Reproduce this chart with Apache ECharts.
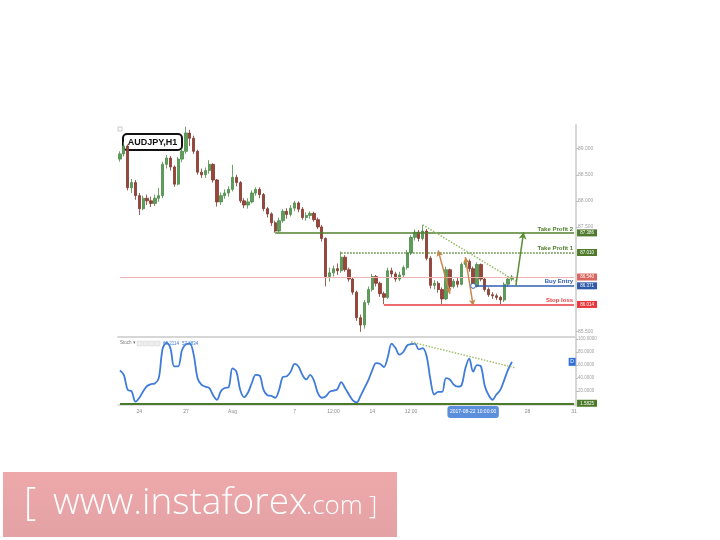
<!DOCTYPE html>
<html><head><meta charset="utf-8">
<script src="https://cdn.jsdelivr.net/npm/echarts@6/dist/echarts.min.js"></script>
<style>html,body{margin:0;padding:0;background:#fff}#c{width:720px;height:540px}</style>
</head><body><div id="c"></div>
<script>
// ---- categories (6-hour slots, trading days only) ----
const tradingDays = ['2017-07-21','2017-07-24','2017-07-25','2017-07-26','2017-07-27','2017-07-28','2017-07-31',
  '2017-08-01','2017-08-02','2017-08-03','2017-08-04','2017-08-07','2017-08-08','2017-08-09','2017-08-10','2017-08-11',
  '2017-08-14','2017-08-15','2017-08-16','2017-08-17','2017-08-18','2017-08-21','2017-08-22','2017-08-23','2017-08-24',
  '2017-08-25','2017-08-28','2017-08-29','2017-08-30'];
const slotHours = ['00:00','06:00','12:00','18:00'];
const categories = ['2017-07-20 18:00'];
tradingDays.forEach(d => slotHours.forEach(h => categories.push(d + ' ' + h)));
categories.push('2017-08-31 00:00');

const tickLabels = {'2017-07-24 00:00':'24','2017-07-27 00:00':'27','2017-08-01 00:00':'Aug','2017-08-07 00:00':'7',
  '2017-08-09 12:00':'12:00','2017-08-14 00:00':'14','2017-08-16 12:00':'12:00','2017-08-28 00:00':'28','2017-08-31 00:00':'31'};
const pointerCategory = '2017-08-22 12:00';
const pointerLabel = '2017-08-22 10:00:00';

// ---- AUDJPY H1 prices (6h buckets) ----
const opens = [88.80,88.90,89.05,88.25,88.35,88.10,87.85,88.05,88.00,87.95, 88.05,88.10,88.70,88.82,88.65,88.32,88.80,88.95,89.30,89.20,
  88.95,88.55,88.50,88.58,88.70,88.40,87.98,88.10,88.15,88.22, 88.45,88.35,88.00,87.92,87.98,88.15,88.22,88.12,87.85,87.75,
  87.58,87.42,87.62,87.80,87.74,87.86,87.96,87.84,87.68,87.72, 87.76,87.64,87.50,87.28,86.55,86.62,86.70,86.66,86.92,86.68,
  86.50,86.25,85.76,85.62,86.05,86.30,86.55,86.42,86.22,86.15, 86.66,86.60,86.50,86.58,86.72,87.00,87.30,87.40,87.28,87.42,
  86.90,86.38,86.42,86.30,86.12,86.68,86.36,86.46,86.40,86.78, 86.84,86.70,86.36,86.78,86.50,86.30,86.20,86.18,86.15,86.10,
  86.40,86.50];
const closes = [88.90,89.05,88.25,88.35,88.10,87.85,88.05,88.00,87.95,88.05, 88.10,88.70,88.82,88.65,88.32,88.80,88.95,89.30,89.20,88.95,
  88.55,88.50,88.58,88.70,88.40,87.98,88.10,88.15,88.22,88.45, 88.35,88.00,87.92,87.98,88.15,88.22,88.12,87.85,87.75,87.58,
  87.42,87.62,87.80,87.74,87.86,87.96,87.84,87.68,87.72,87.76, 87.64,87.50,87.28,86.55,86.62,86.70,86.66,86.92,86.68,86.50,
  86.25,85.76,85.62,86.05,86.30,86.55,86.42,86.22,86.15,86.66, 86.60,86.50,86.58,86.72,87.00,87.30,87.40,87.28,87.42,86.90,
  86.38,86.42,86.30,86.12,86.68,86.36,86.46,86.40,86.78,86.84, 86.70,86.36,86.78,86.50,86.30,86.20,86.18,86.15,86.10,86.40,
  86.50,86.54];
const lows = [88.75,88.85,88.20,88.15,88.02,87.73,87.82,87.92,87.88,87.90, 87.98,88.05,88.62,88.58,88.27,88.30,88.74,88.90,89.05,88.90,
  88.50,88.44,88.44,88.52,88.35,87.89,87.92,88.04,88.08,88.18, 88.28,87.96,87.86,87.85,87.95,88.10,88.05,87.80,87.68,87.52,
  87.39,87.40,87.58,87.66,87.70,87.80,87.78,87.64,87.62,87.66, 87.60,87.46,87.22,86.36,86.45,86.55,86.58,86.62,86.64,86.45,
  86.20,85.70,85.49,85.55,86.00,86.26,86.36,86.16,86.02,86.12, 86.54,86.45,86.46,86.52,86.68,86.96,87.24,87.22,87.24,86.86,
  86.32,86.30,86.24,86.02,86.10,86.30,86.32,86.34,86.38,86.72, 86.64,86.32,86.34,86.46,86.26,86.16,86.12,86.10,86.02,86.06,
  86.36,86.46];
const highs = [88.95,89.13,89.08,88.42,88.40,88.15,88.10,88.12,88.08,88.12, 88.25,88.75,88.88,88.86,88.68,88.84,89.00,89.42,89.36,89.25,
  88.98,88.62,88.64,88.78,88.72,88.42,88.16,88.22,88.28,88.69, 88.50,88.38,88.05,88.05,88.20,88.26,88.26,88.15,87.88,87.78,
  87.62,87.68,87.84,87.86,87.92,88.00,87.99,87.88,87.78,87.80, 87.79,87.68,87.54,87.30,86.72,86.76,86.80,87.03,86.96,86.72,
  86.54,86.28,85.82,86.10,86.36,86.60,86.58,86.45,86.26,86.72, 86.72,86.64,86.64,86.76,87.06,87.34,87.45,87.44,87.54,87.46,
  86.94,86.48,86.46,86.34,86.74,86.70,86.50,86.52,86.82,86.88, 86.88,86.74,86.82,86.80,86.54,86.34,86.25,86.22,86.18,86.44,
  86.55,86.58];

// ---- Stochastic ----
const stochValues = [52,45,22,20,4,10,20,28,31,32, 40,85,94,86,58,58,83,92,93,76, 40,30,27,25,14,7,20,25,26,55,
  50,22,11,18,33,45,44,22,14,13, 10,22,42,43,50,62,58,45,38,45, 36,17,10,12,19,21,23,34,25,15,
  6,3,13,25,37,52,63,62,57,72, 93,86,76,80,90,92,93,84,86,74, 38,15,19,19,40,38,30,27,29,55,
  70,50,60,58,28,14,7,15,22,37, 53,65];
const stochFloor = 1.5825;
const stochLegend = ['63.2114','57.8834'];

// ---- ticks ----
const priceTicks = [85.5, 87.5, 88.0, 88.5, 89.0];
const stochTicks = [20, 40, 60, 80, 100];

// ---- trade levels & annotations (slot index, price) ----
const currentPrice = 86.540;
const takeProfit2 = {start: 40, value: 87.386};
const takeProfit1 = {start: 57, value: 87.010};
const buyEntry = {start: 91, value: 86.371};
const stopLoss = {start: 68, value: 86.014};
const priceTrend = [[78, 87.54], [102, 86.46]];
const targetArrow = [[102, 86.37], [104, 87.40]];
const swingArrows = [[[82, 87.05], [85, 86.22]], [[89, 86.92], [91, 85.99]]];
const stochTrend = [[75, 95.4], [102, 55.6]];
const lastSlot = categories.length - 1;

const candleData = opens.map((o, i) => [o, closes[i], lows[i], highs[i]]);
const FONT = 'Liberation Sans, Arial, sans-serif';

function levelLine(lv, color, type, name) {
  return [{coord: [lv.start, lv.value], lineStyle: {color: color, width: 1.5, type: type},
    label: {show: true, position: 'insideEndTop', formatter: name, color: color, fontSize: 6, fontWeight: 'bold', distance: 1, fontFamily: FONT}},
    {coord: [lastSlot, lv.value]}];
}
function valueBox(v, color, digits) {
  return {coord: [lastSlot, v], value: v, symbol: 'rect', symbolSize: [20, 7], symbolOffset: [13, 0],
    itemStyle: {color: color},
    label: {show: true, position: 'inside', formatter: v.toFixed(digits), color: '#fff', fontSize: 4.5, fontFamily: FONT}};
}

const chart = echarts.init(document.getElementById('c'));
chart.setOption({
  animation: false,
  textStyle: {fontFamily: FONT},
  grid: [{left: 118, right: 144, top: 125, height: 212}, {left: 118, right: 144, top: 337, height: 69}],
  xAxis: [
    {type: 'category', gridIndex: 0, data: categories, boundaryGap: true,
      axisLine: {lineStyle: {color: '#d6d6d6', width: 2}}, axisTick: {show: false}, axisLabel: {show: false}, splitLine: {show: false}},
    {type: 'category', gridIndex: 1, data: categories, boundaryGap: true,
      axisLine: {lineStyle: {color: '#d6d6d6', width: 1.5}}, axisTick: {show: false},
      axisLabel: {interval: (i, v) => v in tickLabels, formatter: v => tickLabels[v] || '', fontSize: 5, color: '#8a8a8a', margin: 3},
      axisPointer: {show: true, value: categories.indexOf(pointerCategory), status: 'show', triggerTooltip: false,
        lineStyle: {opacity: 0},
        label: {show: true, formatter: () => pointerLabel, backgroundColor: '#5b8fdb', color: '#fff', fontSize: 5, padding: [3.5, 2.5], margin: 0}}}
  ],
  yAxis: [
    {type: 'value', gridIndex: 0, position: 'right', min: 85.39, max: 89.454, splitLine: {show: false},
      axisLine: {show: true, lineStyle: {color: '#d6d6d6', width: 2}},
      axisTick: {show: true, length: 2, lineStyle: {color: '#bbbbbb'}, customValues: priceTicks},
      axisLabel: {customValues: priceTicks, formatter: v => v.toFixed(3), fontSize: 5, color: '#a0a0a0', margin: 2}},
    {type: 'value', gridIndex: 1, position: 'right', min: -2.6, max: 103, splitLine: {show: false},
      axisLine: {show: true, lineStyle: {color: '#d6d6d6', width: 2}},
      axisTick: {show: true, length: 2, lineStyle: {color: '#bbbbbb'}, customValues: stochTicks},
      axisLabel: {customValues: stochTicks, formatter: v => v.toFixed(4), fontSize: 4.5, color: '#a0a0a0', margin: 2}}
  ],
  series: [
    {type: 'candlestick', xAxisIndex: 0, yAxisIndex: 0, data: candleData, barWidth: 2.8,
      itemStyle: {color: '#5c9e5a', borderColor: '#4b8a49', color0: '#9a4538', borderColor0: '#80372d', borderWidth: 0.8},
      markLine: {silent: true, symbol: 'none', animation: false,
        data: [
          [{coord: [0, currentPrice], lineStyle: {color: '#f0b4b4', width: 1, type: 'solid'}, label: {show: false}}, {coord: [lastSlot, currentPrice]}],
          levelLine(takeProfit2, '#52802e', 'solid', 'Take Profit 2'),
          levelLine(takeProfit1, '#52802e', 'dotted', 'Take Profit 1'),
          levelLine(buyEntry, '#2f5fb3', 'solid', 'Buy Entry'),
          levelLine(stopLoss, '#e8393d', 'solid', 'Stop loss'),
          [{coord: priceTrend[0], lineStyle: {color: '#98bb6a', width: 1.5, type: 'dotted'}, label: {show: false}}, {coord: priceTrend[1]}],
          [{coord: targetArrow[0], symbol: 'none', lineStyle: {color: '#5a8f35', width: 1.5, type: 'solid'}, label: {show: false}},
            {coord: targetArrow[1], symbol: 'arrow', symbolSize: [6, 7]}],
          ...swingArrows.map(a => [{coord: a[0], symbol: 'arrow', symbolSize: [5, 6], lineStyle: {color: '#c8874a', width: 1.5, type: 'solid'}, label: {show: false}},
            {coord: a[1], symbol: 'arrow', symbolSize: [5, 6]}])
        ]},
      markPoint: {silent: true, animation: false,
        data: [
          valueBox(takeProfit2.value, '#4f7a2b', 3),
          valueBox(takeProfit1.value, '#4f7a2b', 3),
          valueBox(currentPrice, '#d9665e', 3),
          valueBox(buyEntry.value, '#2f5aa8', 3),
          valueBox(stopLoss.value, '#e8353a', 3),
          {coord: [buyEntry.start, buyEntry.value], symbol: 'circle', symbolSize: 5,
            itemStyle: {color: '#ffffff', borderColor: '#3a66b5', borderWidth: 1}, label: {show: false}}
        ]}
    },
    {type: 'line', xAxisIndex: 1, yAxisIndex: 1, data: stochValues, smooth: 0.35, symbol: 'none',
      lineStyle: {color: '#3f7bd9', width: 1.8}, itemStyle: {color: '#3f7bd9'},
      markLine: {silent: true, symbol: 'none', animation: false,
        data: [
          [{coord: [0, stochFloor], lineStyle: {color: '#4a7a2a', width: 2, type: 'solid'}, label: {show: false}}, {coord: [lastSlot, stochFloor]}],
          [{coord: stochTrend[0], lineStyle: {color: '#a4c070', width: 1.5, type: 'dotted'}, label: {show: false}}, {coord: stochTrend[1]}]
        ]},
      markPoint: {silent: true, animation: false,
        data: [
          valueBox(stochFloor, '#4a7a2a', 4),
          {coord: [lastSlot - 1, stochValues[stochValues.length - 1]], symbol: 'rect', symbolSize: [7, 8], symbolOffset: [2, 0],
            itemStyle: {color: '#2f6fd8'}, label: {show: true, position: 'inside', formatter: 'D', color: '#fff', fontSize: 5}}
        ]}
    }
  ],
  graphic: [
    {type: 'rect', shape: {x: 118, y: 127, width: 4, height: 4}, style: {fill: 'none', stroke: '#bbbbbb', lineWidth: 0.8}},
    {type: 'rect', shape: {x: 123, y: 134, width: 59, height: 16, r: 4}, style: {fill: '#ffffff', stroke: '#111111', lineWidth: 2}},
    {type: 'text', x: 152.5, y: 142.5, style: {text: 'AUDJPY,H1', font: 'bold 9px ' + FONT, fill: '#111', textAlign: 'center', textVerticalAlign: 'middle'}},
    {type: 'text', x: 120, y: 343, style: {text: 'Stoch ▾', font: '4.5px ' + FONT, fill: '#777', textVerticalAlign: 'middle'}},
    {type: 'rect', shape: {x: 137, y: 341, width: 5, height: 5}, style: {fill: '#eeeeee', stroke: '#d0d0d0', lineWidth: 0.5}},
    {type: 'rect', shape: {x: 143, y: 341, width: 5, height: 5}, style: {fill: '#eeeeee', stroke: '#d0d0d0', lineWidth: 0.5}},
    {type: 'rect', shape: {x: 149, y: 341, width: 5, height: 5}, style: {fill: '#eeeeee', stroke: '#d0d0d0', lineWidth: 0.5}},
    {type: 'rect', shape: {x: 155, y: 341, width: 5, height: 5}, style: {fill: '#eeeeee', stroke: '#d0d0d0', lineWidth: 0.5}},
    {type: 'text', x: 163, y: 343.5, style: {text: stochLegend[0], font: '4.5px ' + FONT, fill: '#3b78d8', textVerticalAlign: 'middle'}},
    {type: 'text', x: 182, y: 343.5, style: {text: stochLegend[1], font: '4.5px ' + FONT, fill: '#3b78d8', textVerticalAlign: 'middle'}},
    {type: 'rect', shape: {x: 3, y: 472, width: 394, height: 65},
      style: {fill: new echarts.graphic.LinearGradient(0, 0, 0, 1, [{offset: 0, color: '#eea8aa'}, {offset: 1, color: '#e3a2a4'}])}},
    {type: 'text', x: 24, y: 504, style: {text: '[', font: '300 38px "Open Sans"', fill: '#fff', textVerticalAlign: 'middle'}},
    {type: 'text', x: 53, y: 503, style: {text: 'www.instaforex', font: '300 37px "Open Sans"', fill: '#fff', textVerticalAlign: 'middle'}},
    {type: 'text', x: 306, y: 507, style: {text: '.com', font: '300 26px "Open Sans"', fill: '#fff', textVerticalAlign: 'middle'}},
    {type: 'text', x: 369, y: 507, style: {text: ']', font: '300 26px "Open Sans"', fill: '#fff', textVerticalAlign: 'middle'}}
  ]
});
</script>
</body></html>
